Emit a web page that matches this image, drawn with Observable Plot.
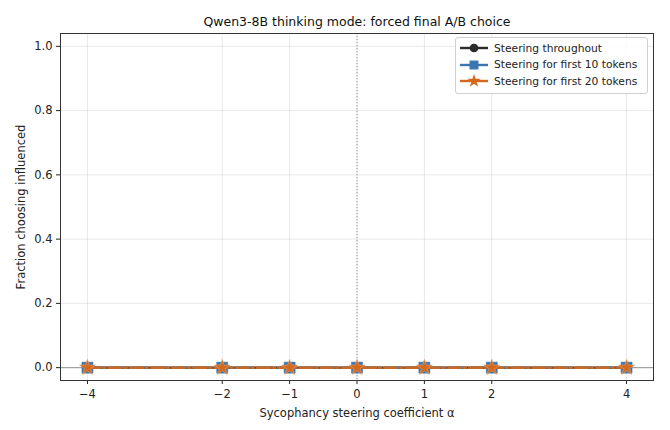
<!DOCTYPE html>
<html>
<head>
<meta charset="utf-8">
<script src="https://cdn.jsdelivr.net/npm/d3@7"></script>
<script src="https://cdn.jsdelivr.net/npm/@observablehq/plot@0.6"></script>
<style>
  html, body { margin: 0; padding: 0; background: #fff; }
  #wrap { position: relative; width: 670px; height: 430px; font-family: "DejaVu Sans", sans-serif; }
  #legend { position: absolute; left: 455px; top: 37px; width: 191px; padding: 2px 0 3px 0;
    border: 1px solid #d0d0d0; border-radius: 3px; background: rgba(255,255,255,0.85); font-size: 10.7px; color: #222; }
  .item { display: flex; align-items: center; height: 16.5px; white-space: nowrap; }
  .item svg { margin-left: 3px; margin-right: 5px; }
</style>
</head>
<body>
<div id="wrap"><div id="legend"></div></div>
<script>
const title = "Qwen3-8B thinking mode: forced final A/B choice";
const xLabel = "Sycophancy steering coefficient α";
const yLabel = "Fraction choosing influenced";
const alphas = [-4, -2, -1, 0, 1, 2, 4];
const throughout = [0, 0, 0, 0, 0, 0, 0];
const first10 = [0, 0, 0, 0, 0, 0, 0];
const first20 = [0, 0, 0, 0, 0, 0, 0];
const yTicks = [0, 0.2, 0.4, 0.6, 0.8, 1.0];
const seriesNames = ["Steering throughout", "Steering for first 10 tokens", "Steering for first 20 tokens"];
const colors = ["#2b2b2b", "#3a76b0", "#d4691e"];
const symbols = ["circle", "square", "star"];
const dashes = [null, "7.4,3.2", "12.8,3.2,2,3.2"];

const allSeries = [throughout, first10, first20];
const tables = allSeries.map((vals, i) => alphas.map((a, j) => ({x: a, y: vals[j], s: seriesNames[i]})));

const marks = [
  Plot.gridX(alphas, {stroke: "#b0b0b0", strokeOpacity: 0.35, strokeWidth: 0.8}),
  Plot.gridY(yTicks, {stroke: "#b0b0b0", strokeOpacity: 0.35, strokeWidth: 0.8}),
  Plot.ruleY([0], {stroke: "#8a8a8a", strokeWidth: 0.9}),
  Plot.ruleX([0], {stroke: "#8a8a8a", strokeWidth: 0.9, strokeDasharray: "1.2,1.8"}),
  Plot.axisX({ticks: alphas, tickSize: 4, tickFormat: d3.format("d"), fontSize: 11.5, tickPadding: 5,
    label: xLabel, labelAnchor: "center", labelArrow: "none", labelOffset: 36}),
  Plot.axisY({ticks: yTicks, tickSize: 4, tickFormat: d3.format(".1f"), fontSize: 11.5, tickPadding: 4,
    label: yLabel, labelAnchor: "center", labelArrow: "none", labelOffset: 44}),
];
tables.forEach((t, i) => {
  marks.push(Plot.line(t, {x: "x", y: "y", stroke: colors[i], strokeWidth: i === 2 ? 2.6 : 2.2,
    strokeOpacity: i === 2 ? 0.9 : 1, strokeDasharray: dashes[i]}));
  marks.push(Plot.dot(t, {x: "x", y: "y", symbol: symbols[i], fill: colors[i],
    stroke: i === 2 ? "#e9a36f" : colors[i], strokeWidth: 0.6,
    r: i === 1 ? 6.2 : i === 2 ? 5.0 : 4.6}));
});
marks.push(Plot.frame({stroke: "#333", strokeWidth: 1}));
marks.push(Plot.text([title], {text: d => d, frameAnchor: "top", dy: -16, fontSize: 12.5, fill: "#111"}));

const chart = Plot.plot({
  width: 670, height: 430,
  marginTop: 33, marginLeft: 60, marginRight: 17, marginBottom: 50,
  style: {fontFamily: "DejaVu Sans, sans-serif", color: "#222", background: "white", fontSize: "12.4px"},
  x: {domain: [-4.4, 4.4]},
  y: {domain: [-0.04, 1.04]},
  marks
});
const wrap = document.getElementById("wrap");
wrap.insertBefore(chart, wrap.firstChild);

const legend = document.getElementById("legend");
seriesNames.forEach((name, i) => {
  const item = document.createElement("div");
  item.className = "item";
  const sym = d3.symbol().type(i === 0 ? d3.symbolCircle : i === 1 ? d3.symbolSquare : d3.symbolStar).size(i === 0 ? 60 : i === 1 ? 80 : 55)();
  item.innerHTML = `<svg width="30" height="14"><line x1="1" x2="29" y1="7" y2="7" stroke="${colors[i]}" stroke-width="2.4"/>` +
    `<path d="${sym}" transform="translate(15,7)" fill="${colors[i]}"/></svg><span>${name}</span>`;
  legend.appendChild(item);
});
</script>
</body>
</html>
